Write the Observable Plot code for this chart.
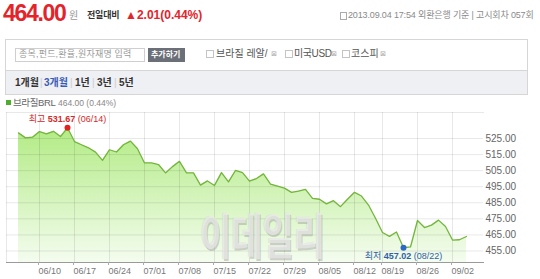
<!DOCTYPE html>
<html><head><meta charset="utf-8">
<script src="https://cdn.jsdelivr.net/npm/d3@7"></script>
<script src="https://cdn.jsdelivr.net/npm/@observablehq/plot@0.6"></script>
<style>
body{margin:0;background:#fff;font-family:"Liberation Sans","Noto Sans CJK KR",sans-serif;}
#wrap{position:relative;width:540px;height:279px;overflow:hidden;background:#fff;}
.abs{position:absolute;white-space:nowrap;line-height:1;}
.cb{position:absolute;width:6px;height:6px;border:1px solid #c4c4c4;background:#fff;}
.xx{position:absolute;font-family:"DejaVu Sans",sans-serif;font-size:7px;color:#aaa;line-height:1;}
</style></head><body>
<div id="wrap">
  <div class="abs" style="left:3px;top:2px;font-size:23px;font-weight:bold;letter-spacing:-1.3px;color:#e3242b;">464.00</div>
  <div class="abs" style="left:69px;top:11px;font-size:10px;color:#999;">원</div>
  <div class="abs" style="left:87px;top:11px;font-size:9px;font-weight:bold;letter-spacing:-0.2px;color:#333;">전일대비</div>
  <div class="abs" style="left:125px;top:9px;font-size:12px;font-weight:bold;color:#e3242b;">▲2.01(0.44%)</div>
  <div class="abs" style="left:340px;top:12px;width:5px;height:6px;border:1px solid #aaa;"></div>
  <div class="abs" style="left:348px;top:11px;font-size:9px;letter-spacing:-0.15px;color:#8a8a8a;">2013.09.04 17:54 외환은행 기준 | 고시회차 057회</div>

  <div class="abs" style="left:5px;top:39px;width:521px;height:54px;border:1px solid #d6d6d6;"></div>
  <div class="abs" style="left:6px;top:70px;width:521px;height:23px;background:#eef0f4;border-top:1px solid #d6d6d6;"></div>
  <div class="abs" style="left:15px;top:48px;width:128px;height:12px;border:1px solid #cfcfcf;"></div>
  <div class="abs" style="left:19px;top:50px;font-size:9px;letter-spacing:0.2px;color:#9a9a9a;">종목,펀드,환율,원자재명 입력</div>
  <div class="abs" style="left:148px;top:48px;width:37px;height:14px;background:#6b6f78;"></div>
  <div class="abs" style="left:151px;top:51px;font-size:8px;font-weight:bold;color:#fff;">추가하기</div>
  <div class="cb" style="left:206px;top:50px;"></div>
  <div class="abs" style="left:216px;top:49px;font-size:10px;color:#555;">브라질 레알/</div>
  <div class="xx" style="left:271px;top:51px;">⊠</div>
  <div class="cb" style="left:285px;top:50px;"></div>
  <div class="abs" style="left:294px;top:49px;font-size:10px;letter-spacing:-0.4px;color:#555;">미국USD</div>
  <div class="xx" style="left:331px;top:51px;">⊠</div>
  <div class="cb" style="left:342px;top:50px;"></div>
  <div class="abs" style="left:351px;top:49px;font-size:10px;color:#555;">코스피</div>
  <div class="xx" style="left:380px;top:51px;">⊠</div>

  <div class="abs" style="left:15px;top:78px;font-size:10px;font-weight:bold;color:#333;">1개월</div>
  <div class="abs" style="left:40px;top:78px;font-size:10px;color:#ccc;">|</div>
  <div class="abs" style="left:44px;top:78px;font-size:10px;font-weight:bold;color:#3a5bb5;">3개월</div>
  <div class="abs" style="left:70px;top:78px;font-size:10px;color:#ccc;">|</div>
  <div class="abs" style="left:75px;top:78px;font-size:10px;font-weight:bold;color:#333;">1년</div>
  <div class="abs" style="left:92px;top:78px;font-size:10px;color:#ccc;">|</div>
  <div class="abs" style="left:97px;top:78px;font-size:10px;font-weight:bold;color:#333;">3년</div>
  <div class="abs" style="left:114px;top:78px;font-size:10px;color:#ccc;">|</div>
  <div class="abs" style="left:119px;top:78px;font-size:10px;font-weight:bold;color:#333;">5년</div>

  <div id="chart" class="abs" style="left:0;top:105px;"></div>

  <div class="abs" style="left:6px;top:100px;width:5px;height:5px;background:#4cae2c;"></div>
  <div class="abs" style="left:13px;top:98px;font-size:9.5px;letter-spacing:-0.4px;color:#666;">브라질BRL</div>
  <div class="abs" style="left:58px;top:99px;font-size:8.5px;color:#888;">464.00 (0.44%)</div>

  <div class="abs" style="left:200px;top:212px;font-size:34px;font-weight:bold;color:rgba(238,238,238,0.7);text-shadow:1px 1px 0 rgba(140,140,140,0.4),-1px 0 0 rgba(200,200,200,0.35);transform:scale(1,1.45);transform-origin:0 0;">이데일리</div>
</div>
<script>
const dates = ["06/04","06/05","06/07","06/10","06/11","06/12","06/13","06/14","06/17","06/18","06/19","06/20","06/21","06/24","06/25","06/26","06/27","06/28",
"07/01","07/02","07/03","07/04","07/05","07/08","07/09","07/10","07/11","07/12","07/15","07/16","07/17","07/18","07/19","07/22","07/23","07/24","07/25","07/26","07/29","07/30","07/31",
"08/01","08/02","08/05","08/06","08/07","08/08","08/09","08/12","08/13","08/14","08/16","08/19","08/20","08/21","08/22","08/23","08/26","08/27","08/28","08/29","08/30",
"09/02","09/03","09/04"];
const values = [528.5,525.4,525.8,529.3,527.9,529.5,526.2,531.67,523.1,521.1,519.2,516.5,511.4,518.0,516.6,521.1,523.4,518.6,
509.8,509.8,508.8,503.6,507.5,510.8,503.6,503.6,496.0,498.6,495.8,503.8,498.0,505.1,503.8,498.5,500.1,503.0,496.6,495.4,494.1,491.5,492.3,
493.3,487.8,487.2,484.3,486.3,482.6,487.2,491.5,489.2,483.6,475.4,466.5,464.1,466.8,457.02,457.5,474.0,469.6,471.1,474.2,470.2,
461.8,461.99,464.0];
const xTickLabels = ["06/10","06/17","06/24","07/01","07/08","07/15","07/22","07/29","08/05","08/12","08/19","08/26","09/02"];
const yTickValues = [455,465,475,485,495,505,515,525];
const highPoint = {date:"06/14", value:531.67, label:"최고 531.67 (06/14)"};
const lowPoint = {date:"08/22", value:457.02, label:"최저 457.02 (08/22)"};

const data = dates.map((d,i)=>({date:d, value:values[i]}));
const yDomain = [447.84, 541.18];

const defsMark = () => {
  const defs = d3.create("svg:defs");
  const g = defs.append("linearGradient").attr("id","areaGrad").attr("x1","0").attr("y1","0").attr("x2","0").attr("y2","1");
  g.append("stop").attr("offset","0%").attr("stop-color","#b2eb84");
  g.append("stop").attr("offset","100%").attr("stop-color","#f4fcef");
  return defs.node();
};

const chart = Plot.plot({
  width: 540, height: 174,
  marginTop: 7, marginBottom: 17, marginLeft: 6, marginRight: 57,
  style: {fontFamily: "'Liberation Sans','Noto Sans CJK KR',sans-serif", background: "transparent"},
  x: {type: "point", domain: dates, range: [9, 474.9], padding: 0},
  y: {domain: yDomain},
  marks: [
    defsMark,
    Plot.areaY(data, {x: "date", y1: yDomain[0], y2: "value", fill: "url(#areaGrad)"}),
    Plot.ruleY(yTickValues, {stroke: "#000", strokeOpacity: 0.09}),
    Plot.ruleX(xTickLabels, {stroke: "#000", strokeOpacity: 0.09}),
    Plot.frame({anchor: "top", stroke: "#000", strokeOpacity: 0.09}),
    Plot.frame({anchor: "left", stroke: "#000", strokeOpacity: 0.09}),
    Plot.lineY(data, {x: "date", y: "value", stroke: "#74b53c", strokeWidth: 1.3}),
    Plot.frame({anchor: "bottom", stroke: "#9a9a9a"}),
    Plot.axisX({ticks: xTickLabels, tickSize: 3, tickPadding: 2, textAnchor: "start", dx: -1, fontSize: 9, fill: "#777", stroke: "#aaa", label: null}),
    Plot.axisY({anchor: "right", ticks: yTickValues, tickSize: 0, tickPadding: 2, tickFormat: d => d.toFixed(2), fontSize: 10, fill: "#666", label: null}),
    Plot.dot([highPoint], {x: "date", y: "value", r: 3, fill: "#e02424"}),
    Plot.text([highPoint], {x: "date", y: "value", text: "label", dy: -9, fontSize: 9, fill: "#d42a2a"}),
    Plot.dot([lowPoint], {x: "date", y: "value", r: 3, fill: "#2d68c8"}),
    Plot.text([lowPoint], {x: "date", y: "value", text: "label", dy: 8, fontSize: 9, fill: "#2f5fa8"})
  ]
});
document.getElementById("chart").appendChild(chart);

// bold the numeric part of the high/low annotations
d3.select(chart).selectAll("text").each(function(){
  const t = this.textContent;
  const m = t.match(/^(\S+ )(\d+\.\d+)( \(.*\))$/);
  if (!m) return;
  const s = d3.select(this);
  s.text(null);
  s.append("tspan").text(m[1]);
  s.append("tspan").attr("font-weight","bold").text(m[2]);
  s.append("tspan").text(m[3]);
});
</script>
</body></html>
